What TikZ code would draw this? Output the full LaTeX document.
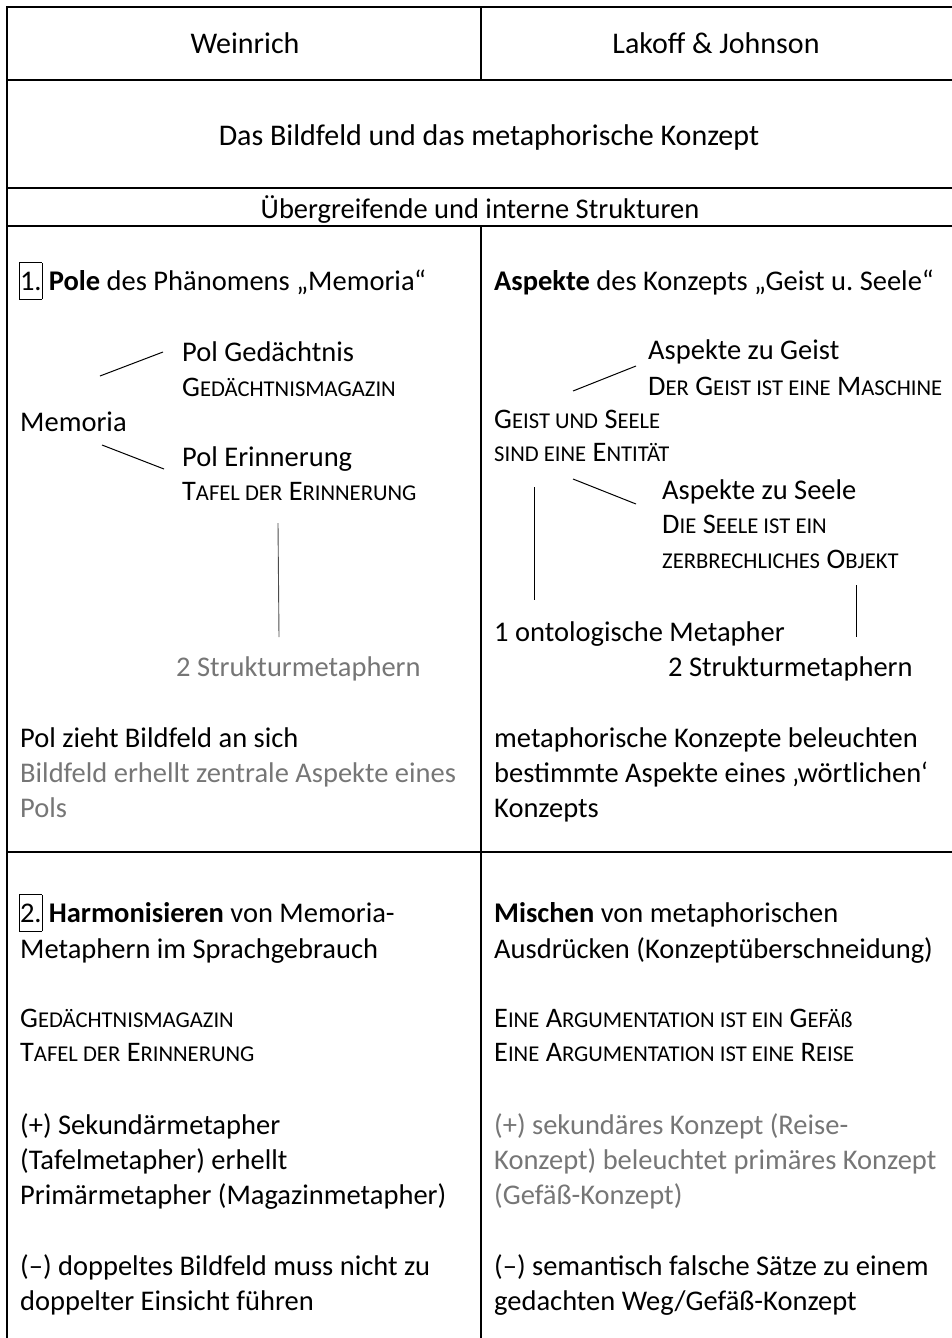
\documentclass[tikz,border=0pt]{standalone}
\usepackage{fontspec}
\setmainfont{Carlito}
\frenchspacing
\definecolor{txtgray}{RGB}{118,118,118}
\newcommand\mainsz{\fontsize{28.5}{34}\selectfont}
\newcommand\headsz{\fontsize{30}{36}\selectfont}
\newcommand\smsz{\fontsize{22.6}{26}\selectfont}
\newcommand\capsz{\fontsize{28.3}{34}\selectfont}
% fake small caps: \skc{Capital}{rest in caps}
\newcommand\skc[2]{{\capsz #1}{\smsz #2}}
\newcommand\numbox[1]{{\setlength\fboxsep{0pt}\setlength\fboxrule{0.8pt}\fbox{\rule[-9pt]{0pt}{36pt}#1}}}
\begin{document}
\begin{tikzpicture}[x=1pt,y=-1pt,
  txt/.style={anchor=base west,inner sep=0pt,font=\mainsz},
  ctxt/.style={anchor=base,inner sep=0pt,font=\mainsz},
  htxt/.style={anchor=base,inner sep=0pt,font=\headsz},
  gtxt/.style={txt,text=txtgray},
  rule/.style={line width=1.2pt,black},
  conn/.style={line width=1pt,black},
  gconn/.style={line width=0.9pt,black!70}]
\useasboundingbox (0,0) rectangle (952,1338);
% table frame
\draw[rule] (952,7) -- (7,7) -- (7,1338);
\draw[rule] (7,80) -- (952,80);
\draw[rule] (7,188) -- (952,188);
\draw[rule] (7,226) -- (952,226);
\draw[rule] (7,852) -- (952,852);
\draw[rule] (481,7) -- (481,80);
\draw[rule] (481,226) -- (481,1338);
% header rows
\node[htxt] (weinrich) at (245,54) {Weinrich};
\node[htxt] (lakoff) at (716,54) {Lakoff \& Johnson};
\node[htxt] (title) at (489,145) {Das Bildfeld und das metaphorische Konzept};
\node[ctxt] (sub) at (480,218) {Übergreifende und interne Strukturen};
% left section 1
\node[txt] (l1h) at (19,290) {\numbox{1.} \textbf{Pole} des Phänomens „Memoria“};
\node[txt] (polg) at (182,361) {Pol Gedächtnis};
\node[txt] (gmag) at (182,396) {\skc{G}{EDÄCHTNISMAGAZIN}};
\node[txt] (memoria) at (20,431) {Memoria};
\node[txt] (pole) at (182,466) {Pol Erinnerung};
\node[txt] (tafel) at (182,500) {\skc{T}{AFEL DER} \skc{E}{RINNERUNG}};
\node[gtxt] (struktl) at (176,676) {2 Strukturmetaphern};
\node[txt] (polzieht) at (20,747) {Pol zieht Bildfeld an sich};
\node[gtxt] (erhellt1) at (20,782) {Bildfeld erhellt zentrale Aspekte eines};
\node[gtxt] (erhellt2) at (20,817) {Pols};
\coordinate (m1a) at (100,376); \coordinate (m1b) at (163,352);
\coordinate (m2a) at (102,445); \coordinate (m2b) at (164,469);
\coordinate (v1a) at (278,523); \coordinate (v1b) at (279,637);
\draw[conn] (m1a) -- (m1b);
\draw[conn] (m2a) -- (m2b);
\draw[gconn] (v1a) -- (v1b);
% right section 1
\node[txt] (r1h) at (494,290) {\textbf{Aspekte} des Konzepts „Geist u. Seele“};
\node[txt] (azg) at (648,359) {Aspekte zu Geist};
\node[txt] (dgm) at (648,395) {\skc{D}{ER} \skc{G}{EIST IST EINE} \skc{M}{ASCHINE}};
\node[txt] (gus) at (494,428) {\skc{G}{EIST UND} \skc{S}{EELE}};
\node[txt] (see) at (494,461) {\skc{}{SIND EINE} \skc{E}{NTITÄT}};
\node[txt] (azs) at (662,499) {Aspekte zu Seele};
\node[txt] (dse) at (662,533) {\skc{D}{IE} \skc{S}{EELE IST EIN}};
\node[txt] (zo) at (662,568) {\skc{}{ZERBRECHLICHES} \skc{O}{BJEKT}};
\node[txt] (onto) at (494,641) {1 ontologische Metapher};
\node[txt] (struktr) at (668,676) {2 Strukturmetaphern};
\node[txt] (mkb1) at (494,747) {metaphorische Konzepte beleuchten};
\node[txt] (mkb2) at (494,782) {bestimmte Aspekte eines ‚wörtlichen‘};
\node[txt] (mkb3) at (494,817) {Konzepts};
\coordinate (r1a) at (573,391); \coordinate (r1b) at (636,366);
\coordinate (r2a) at (573,479); \coordinate (r2b) at (636,504);
\coordinate (rv1a) at (534,487); \coordinate (rv1b) at (534,600);
\coordinate (rv2a) at (856,585); \coordinate (rv2b) at (856,637);
\draw[conn] (r1a) -- (r1b);
\draw[conn] (r2a) -- (r2b);
\draw[conn] (rv1a) -- (rv1b);
\draw[conn] (rv2a) -- (rv2b);
% left section 2
\node[txt] (l2h) at (19,922) {\numbox{2.} \textbf{Harmonisieren} von Memoria-};
\node[txt] (l2h2) at (20,958) {Metaphern im Sprachgebrauch};
\node[txt] (gmag2) at (20,1027) {\skc{G}{EDÄCHTNISMAGAZIN}};
\node[txt] (tafel2) at (20,1061) {\skc{T}{AFEL DER} \skc{E}{RINNERUNG}};
\node[txt] (plus1) at (20,1134) {(+) Sekundärmetapher};
\node[txt] (plus2) at (20,1169) {(Tafelmetapher) erhellt};
\node[txt] (plus3) at (20,1204) {Primärmetapher (Magazinmetapher)};
\node[txt] (minus1) at (20,1275) {(–) doppeltes Bildfeld muss nicht zu};
\node[txt] (minus2) at (20,1310) {doppelter Einsicht führen};
% right section 2
\node[txt] (r2h) at (494,922) {\textbf{Mischen} von metaphorischen};
\node[txt] (r2h2) at (494,958) {Ausdrücken (Konzeptüberschneidung)};
\node[txt] (arg1) at (494,1027) {\skc{E}{INE} \skc{A}{RGUMENTATION IST EIN} \skc{G}{EFÄß}};
\node[txt] (arg2) at (494,1061) {\skc{E}{INE} \skc{A}{RGUMENTATION IST EINE} \skc{R}{EISE}};
\node[gtxt] (rplus1) at (494,1134) {(+) sekundäres Konzept (Reise-};
\node[gtxt] (rplus2) at (494,1169) {Konzept) beleuchtet primäres Konzept};
\node[gtxt] (rplus3) at (494,1204) {(Gefäß-Konzept)};
\node[txt] (rminus1) at (494,1275) {(–) semantisch falsche Sätze zu einem};
\node[txt] (rminus2) at (494,1310) {gedachten Weg/Gefäß-Konzept};
\end{tikzpicture}
\end{document}
